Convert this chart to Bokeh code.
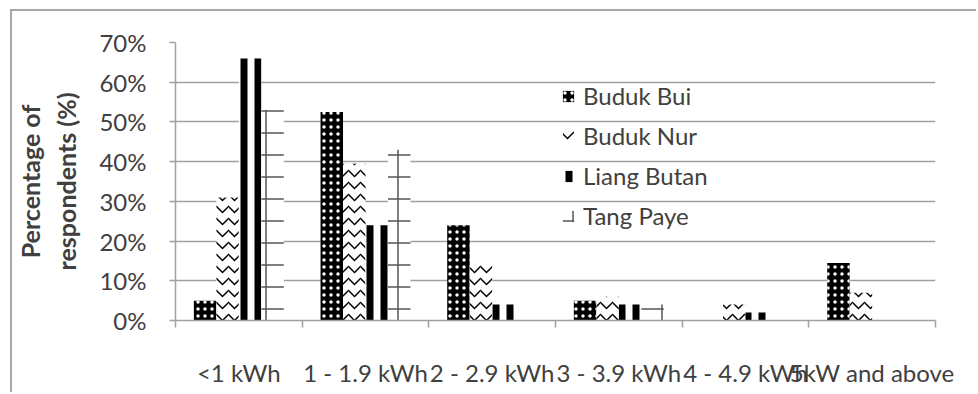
import numpy as np
from bokeh.plotting import figure
from bokeh.models import (Range1d, FixedTicker, PrintfTickFormatter, Legend,
                          LegendItem)
from bokeh.embed import file_html
from bokeh.resources import INLINE

# Daily electricity consumption per household, share of respondents (%)
categories = ["<1 kWh", "1 - 1.9 kWh", "2 - 2.9 kWh", "3 - 3.9 kWh",
              "4 - 4.9 kWh", "5kW and above"]
buduk_bui = [5, 52.5, 24, 5, 0, 14.5]
buduk_nur = [31, 39.5, 14, 6, 4, 7]
liang_butan = [66, 24, 4, 4, 2, 0]
tang_paye = [53, 43, 0, 4, 0, 0]
y_ticks = [0, 10, 20, 30, 40, 50, 60, 70]

series = [
    ("Buduk Bui", buduk_bui,
     dict(fill_color="black", hatch_pattern=".", hatch_color="white",
          hatch_scale=7, hatch_weight=2)),
    ("Buduk Nur", buduk_nur,
     dict(fill_color="white", hatch_pattern="v", hatch_color="black",
          hatch_scale=12, hatch_weight=1.5)),
    ("Liang Butan", liang_butan,
     dict(fill_color="white", hatch_pattern="|", hatch_color="black",
          hatch_scale=14, hatch_weight=7)),
    ("Tang Paye", tang_paye,
     dict(fill_color="white", hatch_pattern="+", hatch_color="#555555",
          hatch_scale=22, hatch_weight=1.5)),
]

TEXT = "#404040"
FONT = "Lato"
GRID = "#a0a0a0"

# the chart sits inside a thin grey frame (left and top edges visible)
OFF_X, OFF_Y = 14, 13
p = figure(width=978 - 12, height=394 - 11, output_backend="svg",
           toolbar_location=None,
           x_range=Range1d(0, len(categories)), y_range=Range1d(0, 70),
           min_border_left=176 - OFF_X, min_border_right=43,
           min_border_top=44 - OFF_Y, min_border_bottom=74)
p.styles = {"margin-left": "10px", "margin-top": "9px",
            "border-left": "2px solid #a6a6a6",
            "border-top": "2px solid #a6a6a6"}
p.outline_line_color = None
p.background_fill_color = "white"
p.border_fill_color = "white"

centers = np.arange(len(categories)) + 0.5
bar_w = 0.1775
offsets = (np.arange(len(series)) - (len(series) - 1) / 2) * bar_w

items = []
for (name, vals, style), off in zip(series, offsets):
    r = p.vbar(x=centers + off, top=vals, bottom=0, width=bar_w,
               line_color=None, **style)
    items.append(LegendItem(label=name, renderers=[r]))

# x axis: labels at group centres, tick marks at group boundaries
p.xaxis.ticker = FixedTicker(ticks=list(centers),
                             minor_ticks=list(range(len(categories) + 1)))
p.xaxis.major_label_overrides = {float(c): lab for c, lab in zip(centers, categories)}
p.xaxis.major_tick_line_color = None
p.xaxis.major_tick_out = 0
p.xaxis.major_tick_in = 0
p.xaxis.minor_tick_line_color = GRID
p.xaxis.minor_tick_out = 7
p.xaxis.minor_tick_in = 0
p.xaxis.minor_tick_line_width = 1.5
p.xaxis.major_label_standoff = 30

p.yaxis.ticker = FixedTicker(ticks=y_ticks)
p.yaxis.formatter = PrintfTickFormatter(format="%d%%")
p.yaxis.minor_tick_line_color = None
p.yaxis.major_tick_line_color = GRID
p.yaxis.major_tick_line_width = 1.5
p.yaxis.major_tick_out = 6
p.yaxis.major_tick_in = 0
p.yaxis.major_label_standoff = 23
p.yaxis.axis_label = "Percentage of\nrespondents (%)"
p.yaxis.axis_label_standoff = 15
p.yaxis.axis_label_text_font = FONT
p.yaxis.axis_label_text_font_size = "25px"
p.yaxis.axis_label_text_font_style = "bold"
p.yaxis.axis_label_text_color = TEXT

for ax in (p.xaxis, p.yaxis):
    ax.axis_line_color = GRID
    ax.axis_line_width = 1.5
    ax.major_label_text_font = FONT
    ax.major_label_text_font_size = "24px"
    ax.major_label_text_color = TEXT

p.xgrid.grid_line_color = None
p.ygrid.grid_line_color = GRID
p.ygrid.grid_line_width = 1.5

legend = Legend(items=items, location=(386, 90), orientation="vertical",
                border_line_color=None, background_fill_alpha=0,
                label_text_font=FONT, label_text_font_size="24px",
                label_text_color=TEXT, glyph_width=14, glyph_height=14,
                label_standoff=8, spacing=11, padding=0, margin=0)
p.add_layout(legend)

open("out.html", "w").write(file_html(p, INLINE))
